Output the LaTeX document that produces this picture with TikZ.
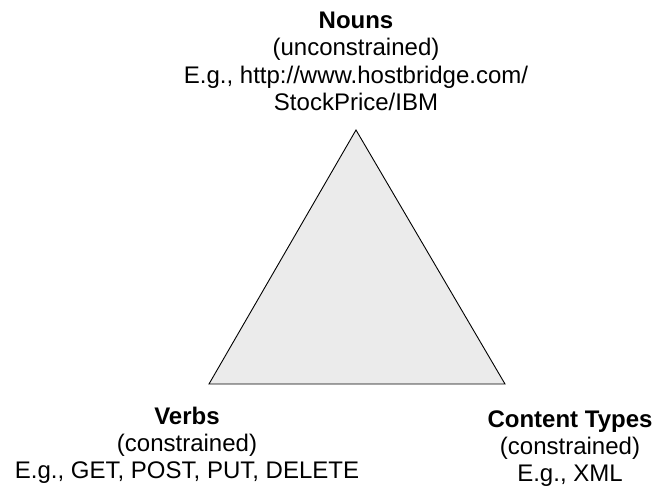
\documentclass[tikz,border=0pt]{standalone}
\usepackage{fontspec}
\setmainfont{Liberation Sans}
\begin{document}
\begin{tikzpicture}[x=1pt,y=1pt,
  label text/.style={align=center, inner sep=0pt, anchor=base,
    font=\fontsize{24}{27.3}\selectfont}]
\useasboundingbox (0,0) rectangle (656,489);
% triangle corners
\coordinate (apex) at (356,359);
\coordinate (left) at (209,105);
\coordinate (right) at (505,105);
\draw[fill={rgb,255:red,235;green,235;blue,235}, line width=0.9pt, line join=miter]
  (apex) -- (left) -- (right) -- cycle;
% corner labels (anchored at the baseline of the last line)
\node[label text] (nouns) at (356,378.5)
  {\textbf{Nouns}\\(unconstrained)\\E.g., http://www.hostbridge.com/\\StockPrice/IBM};
\node[label text] (verbs) at (187,10)
  {\textbf{Verbs}\\(constrained)\\E.g., GET, POST, PUT, DELETE};
\node[label text] (types) at (570,7)
  {\textbf{Content Types}\\(constrained)\\E.g., XML};
\end{tikzpicture}
\end{document}
